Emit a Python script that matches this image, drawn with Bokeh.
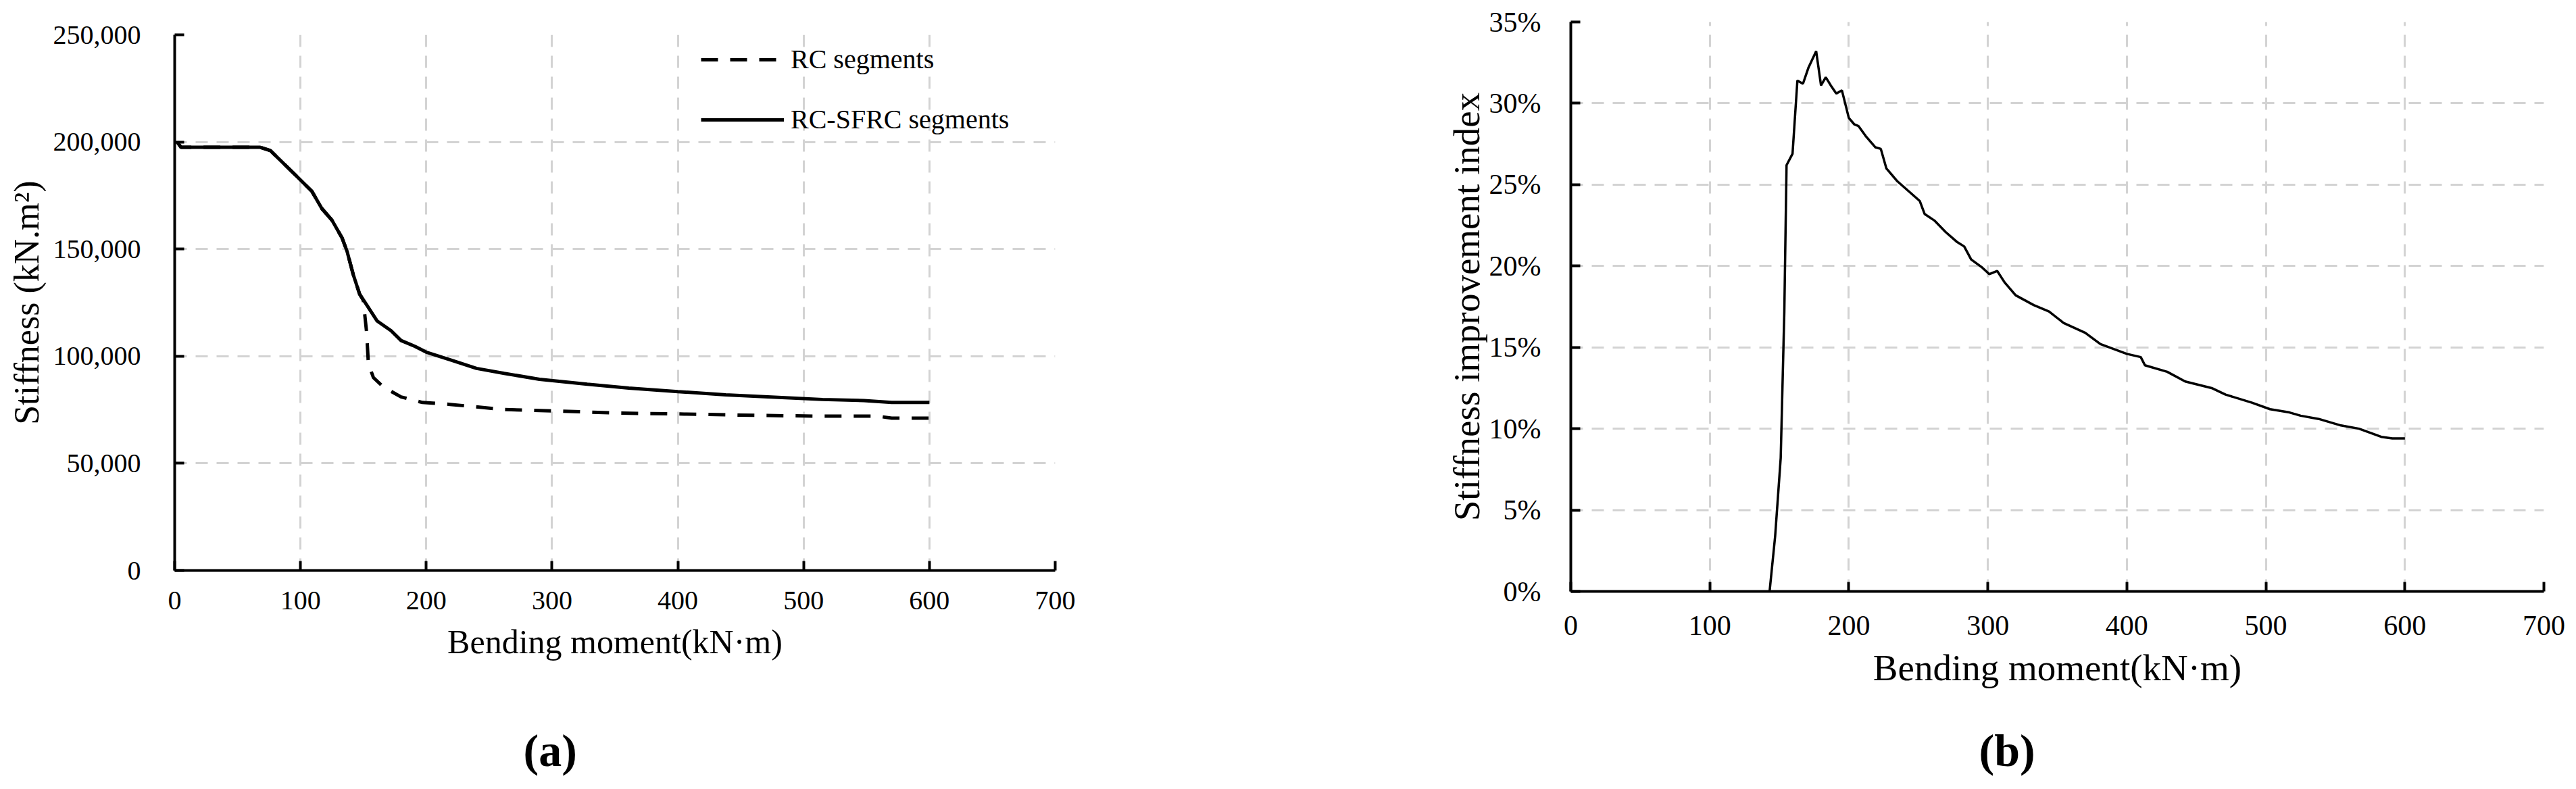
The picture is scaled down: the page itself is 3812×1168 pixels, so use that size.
from bokeh.plotting import figure
from bokeh.layouts import row, column
from bokeh.models import (Legend, LegendItem, SingleIntervalTicker, NumeralTickFormatter,
                          PrintfTickFormatter, Range1d)
from bokeh.core.properties import value
from bokeh.embed import file_html
from bokeh.resources import INLINE

# ---------------- data (a) ----------------
sfrc_moment = [2, 5, 20, 40, 60, 68, 76, 87, 98, 109, 117, 125, 133, 137, 142, 147, 153, 161, 172,
               180, 191, 200, 219, 240, 262, 290, 328, 361, 400, 438, 477, 515, 548, 570, 600]
sfrc_stiff = [200000, 197500, 197500, 197500, 197500, 197500, 196000, 189700, 183400, 177000,
              168900, 163500, 155300, 149000, 138000, 129000, 123600, 116400, 111900, 107300,
              104600, 101900, 98300, 94300, 92000, 89200, 86900, 85100, 83500, 82000, 80900,
              79800, 79300, 78400, 78400]

rc_moment = [2, 5, 20, 40, 60, 68, 76, 87, 98, 109, 117, 125, 133, 137, 142, 147, 150, 151, 152.6,
             154, 158, 166, 180, 197, 219, 262, 306, 350, 405, 460, 515, 559, 570, 600]
rc_stiff = [200000, 197500, 197500, 197500, 197500, 197500, 196000, 189700, 183400, 177000,
            168900, 163500, 155300, 149000, 138000, 129000, 126000, 120000, 111000, 96500, 90000,
            85600, 81000, 78400, 77500, 75100, 74400, 73500, 73000, 72400, 72000, 72000, 71100,
            71100]

# ---------------- data (b) ----------------
idx_moment = [143, 147, 151, 153.6, 155.2, 159.5, 163, 167, 171, 176.5, 180, 183.4, 187, 191, 195,
              200, 204, 207, 212, 219, 223, 227, 235, 243, 251, 254.5, 261.5, 269.5, 277.5, 283,
              288, 296, 301, 306.7, 312, 320, 333, 344, 354.5, 370, 381, 400, 410, 413, 429, 442,
              461, 471, 490, 503, 517, 525, 538, 554, 567, 583, 591, 600]
idx_value = [0, 3.4, 8.2, 17.2, 26.2, 26.9, 31.4, 31.2, 32.2, 33.2, 31.1, 31.6, 31.1, 30.6, 30.8,
             29.1, 28.7, 28.6, 28.0, 27.3, 27.2, 26.0, 25.2, 24.6, 24.0, 23.2, 22.8, 22.1, 21.5,
             21.2, 20.4, 19.9, 19.5, 19.7, 19.0, 18.2, 17.6, 17.2, 16.5, 15.9, 15.2, 14.6, 14.4,
             13.9, 13.5, 12.9, 12.5, 12.1, 11.6, 11.2, 11.0, 10.8, 10.6, 10.2, 10.0, 9.5, 9.4, 9.4]

x_title = "Bending moment(kN·m)"
ya_title = "Stiffness (kN.m²)"
yb_title = "Stiffness improvement index"
legend_labels = ["RC segments", "RC-SFRC segments"]
captions = ["(a)", "(b)"]

FONT = "Liberation Serif"
GRID = "#d3d3d3"
CAP_H = 108


def style(p, tick_px, label_px, ylab_px, y_standoff, x_standoff, xl_standoff, yl_standoff):
    for ax in (p.xaxis[0], p.yaxis[0]):
        ax.axis_line_width = 4
        ax.axis_line_color = "black"
        ax.major_tick_in = 14
        ax.major_tick_out = 0
        ax.major_tick_line_width = 4
        ax.major_tick_line_color = "black"
        ax.minor_tick_line_color = None
        ax.major_label_text_font = FONT
        ax.major_label_text_font_size = f"{tick_px}px"
        ax.major_label_text_color = "black"
        ax.axis_label_text_font = FONT
        ax.axis_label_text_font_style = "normal"
        ax.axis_label_text_color = "black"
    p.xaxis[0].axis_label_text_font_size = f"{label_px}px"
    p.yaxis[0].axis_label_text_font_size = f"{ylab_px}px"
    p.yaxis[0].major_label_standoff = y_standoff
    p.xaxis[0].major_label_standoff = x_standoff
    p.xaxis[0].axis_label_standoff = xl_standoff
    p.yaxis[0].axis_label_standoff = yl_standoff
    for g in (p.xgrid[0], p.ygrid[0]):
        g.grid_line_color = GRID
        g.grid_line_width = 3
        g.grid_line_dash = "18 13"
    p.outline_line_color = None
    p.background_fill_color = "white"
    p.border_fill_color = "white"


def caption_fig(frame_w, bl, br, text, x):
    # caption strip below a chart; its frame is aligned with the chart frame
    c = figure(frame_width=frame_w, frame_height=CAP_H, x_range=Range1d(0, frame_w),
               y_range=Range1d(0, CAP_H), min_border_left=bl, min_border_right=br,
               min_border_top=0, min_border_bottom=0, toolbar_location=None,
               output_backend="svg")
    c.axis.visible = False
    c.grid.visible = False
    c.outline_line_color = None
    c.text(x=[x], y=[42], text=[text], text_font=value(FONT), text_font_size="68px",
           text_font_style="bold", text_baseline="middle", text_align="left",
           text_color="black")
    return c


# ---------------- figure (a) ----------------
pa = figure(frame_width=1303, frame_height=793, min_border_left=258, min_border_right=439,
            min_border_top=51, min_border_bottom=200, output_backend="svg",
            toolbar_location=None, x_range=Range1d(0, 700), y_range=Range1d(0, 250000))
pa.xaxis.ticker = SingleIntervalTicker(interval=100)
pa.yaxis.ticker = SingleIntervalTicker(interval=50000)
pa.yaxis.formatter = NumeralTickFormatter(format="0,0")
pa.xaxis.axis_label = x_title
pa.yaxis.axis_label = ya_title
style(pa, 40, 50, 52, 46, 27, 17, 8)

rc = pa.line(rc_moment, rc_stiff, line_color="black", line_width=5, line_dash="25 18")
sf = pa.line(sfrc_moment, sfrc_stiff, line_color="black", line_width=5)

leg = Legend(items=[LegendItem(label=legend_labels[0], renderers=[rc]),
                    LegendItem(label=legend_labels[1], renderers=[sf])],
             location=(779, 644), orientation="vertical",
             glyph_width=123, glyph_height=46, label_height=46, label_standoff=10,
             spacing=42, padding=0, margin=0,
             label_text_font=FONT, label_text_font_size="40px", label_text_color="black",
             border_line_color=None, background_fill_alpha=0)
pa.add_layout(leg)

# ---------------- figure (b) ----------------
pb = figure(frame_width=1440, frame_height=843, min_border_left=324, min_border_right=32,
            min_border_top=32, min_border_bottom=169, output_backend="svg",
            toolbar_location=None, x_range=Range1d(0, 700), y_range=Range1d(0, 35))
pb.xaxis.ticker = SingleIntervalTicker(interval=100)
pb.yaxis.ticker = SingleIntervalTicker(interval=5)
pb.yaxis.formatter = PrintfTickFormatter(format="%d%%")
pb.xaxis.axis_label = x_title
pb.yaxis.axis_label = yb_title
style(pb, 42, 55, 55, 40, 32, 15, 0)
pb.line(idx_moment, idx_value, line_color="black", line_width=3.5)

ca = caption_fig(1303, 258, 439, captions[0], 516)
cb = caption_fig(1440, 324, 32, captions[1], 604)

layout = row(column(pa, ca, spacing=0), column(pb, cb, spacing=0), spacing=0)
open("out.html", "w").write(file_html(layout, INLINE))
